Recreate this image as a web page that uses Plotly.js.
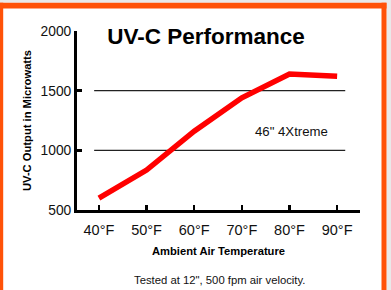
<!DOCTYPE html>
<html>
<head>
<meta charset="utf-8">
<script src="https://cdn.plot.ly/plotly-3.0.1.min.js"></script>
<style>
  html, body { margin: 0; padding: 0; background: #ffffff; }
  #chart { width: 391px; height: 290px; }
</style>
</head>
<body>
<div id="chart"></div>
<script>
// ---- data ----
const temperatures = [40, 50, 60, 70, 80, 90];
const tempLabels = ['40°F', '50°F', '60°F', '70°F', '80°F', '90°F'];
const uvcOutput = [600, 835, 1160, 1440, 1640, 1620];
const yTicks = [500, 1000, 1500, 2000];
const yTickLabels = ['500', '1000', '1500', '2000'];
const gridValues = [1000, 1500];
const seriesName = '46" 4Xtreme';

// ---- layout helpers (pixel -> paper) ----
const W = 391, H = 290;
const M = { l: 77, r: 31, t: 31, b: 80 };
const PW = W - M.l - M.r, PH = H - M.t - M.b;
const px = x => (x - M.l) / PW;
const py = y => (H - M.b - y) / PH;

const FONT = '"Liberation Sans", Arial, sans-serif';
const ORANGE = '#ff5208';
const OUTSIDE = '#e9e9e9';

const shapes = [
  { type: 'rect', xref: 'paper', yref: 'paper', x0: px(0), x1: px(W), y0: py(0), y1: py(2.7), fillcolor: OUTSIDE, line: { width: 0 }, layer: 'below' },
  { type: 'rect', xref: 'paper', yref: 'paper', x0: px(386.5), x1: px(W), y0: py(0), y1: py(H), fillcolor: OUTSIDE, line: { width: 0 }, layer: 'below' },
  { type: 'rect', xref: 'paper', yref: 'paper', x0: px(0), x1: px(386.5), y0: py(2.7), y1: py(8.5), fillcolor: ORANGE, line: { width: 0 }, layer: 'below' },
  { type: 'rect', xref: 'paper', yref: 'paper', x0: px(0), x1: px(3.2), y0: py(2.7), y1: py(H), fillcolor: ORANGE, line: { width: 0 }, layer: 'below' },
  { type: 'rect', xref: 'paper', yref: 'paper', x0: px(381.5), x1: px(386.5), y0: py(2.7), y1: py(H), fillcolor: ORANGE, line: { width: 0 }, layer: 'below' }
];
gridValues.forEach(v => shapes.push({
  type: 'line', xref: 'x', yref: 'y', x0: 39.0, x1: 91.7, y0: v, y1: v,
  line: { color: '#222', width: 1.2 }, layer: 'below'
}));

const trace = {
  x: temperatures,
  y: uvcOutput,
  type: 'scatter',
  mode: 'lines',
  name: seriesName,
  line: { color: '#ff0000', width: 5.5 },
  hoverinfo: 'x+y'
};

const layout = {
  width: W, height: H,
  margin: M,
  paper_bgcolor: '#ffffff',
  plot_bgcolor: 'rgba(0,0,0,0)',
  showlegend: false,
  font: { family: FONT, color: '#111' },
  title: {
    text: 'UV-C Performance',
    font: { family: FONT, size: 22.5, weight: 'bold', color: '#000' },
    xref: 'container', yref: 'container',
    x: 206 / W, xanchor: 'center',
    y: 1 - 36 / H, yanchor: 'middle'
  },
  xaxis: {
    range: [35.4, 94.8],
    tickvals: temperatures,
    ticktext: tempLabels,
    ticks: 'inside', ticklen: 5, tickwidth: 2.5, tickcolor: '#000',
    showline: true, linecolor: '#000', linewidth: 3,
    showgrid: false, zeroline: false,
    tickfont: { family: FONT, size: 14.5, color: '#111' },
    ticklabelstandoff: 5,
    title: {
      text: 'Ambient Air Temperature',
      font: { family: FONT, size: 11.2, weight: 'bold', color: '#000' },
      standoff: 10
    },
    fixedrange: true
  },
  yaxis: {
    range: [500, 2000],
    tickvals: yTicks,
    ticktext: yTickLabels,
    ticks: 'inside', ticklen: 5, tickwidth: 3, tickcolor: '#000',
    showline: true, linecolor: '#000', linewidth: 3,
    showgrid: false, zeroline: false,
    tickfont: { family: FONT, size: 13.8, color: '#111' },
    title: {
      text: 'UV-C Output in Microwatts',
      font: { family: FONT, size: 11.2, weight: 'bold', color: '#000' },
      standoff: 7
    },
    fixedrange: true
  },
  shapes: shapes,
  annotations: [
    {
      text: seriesName, xref: 'paper', yref: 'paper',
      x: px(291), y: py(131), xanchor: 'center', yanchor: 'middle',
      showarrow: false, font: { family: FONT, size: 13.2, color: '#111' }
    },
    {
      text: 'Tested at 12", 500 fpm air velocity.', xref: 'paper', yref: 'paper',
      x: px(219), y: py(279.5), xanchor: 'center', yanchor: 'middle',
      showarrow: false, font: { family: FONT, size: 11.3, color: '#111' }
    }
  ]
};

Plotly.newPlot('chart', [trace], layout, { displayModeBar: false, staticPlot: true });
</script>
</body>
</html>
